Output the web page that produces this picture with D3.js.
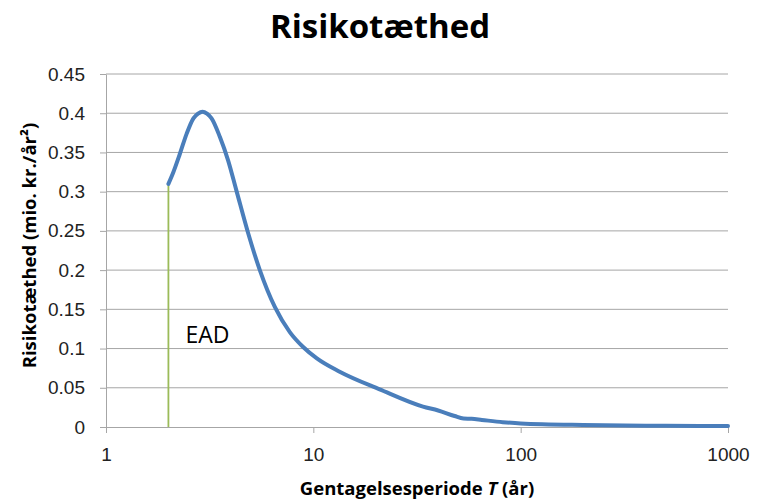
<!DOCTYPE html>
<html>
<head>
<meta charset="utf-8">
<script src="https://cdn.jsdelivr.net/npm/d3@7"></script>
<style>
  body { margin: 0; background: #fff; }
  svg { font-family: 'Open Sans', sans-serif; }
  .grid line { stroke: #a6a6a6; stroke-width: 1; }
  .axis text { font-size: 19px; fill: #222; }
  .axis line, .axis path { stroke: #a6a6a6; }
</style>
</head>
<body>
<div id="chart"></div>
<script>
// return period T (years) and risk density (mio. kr./år²)
const periods = [2, 2.11, 2.27, 2.45, 2.64, 2.78, 2.92, 3.07, 3.23, 3.54, 3.88, 4.26, 4.85, 5.52, 6.52, 7.7, 8.93, 10.4, 13.4, 20.9, 33.8, 40, 48, 53, 58, 65, 82, 100, 200, 500, 1000];
const density = [0.310, 0.3245, 0.348, 0.374, 0.3935, 0.3995, 0.402, 0.3995, 0.3935, 0.370, 0.340, 0.301, 0.247, 0.200, 0.153, 0.121, 0.102, 0.0875, 0.0705, 0.048, 0.026, 0.021, 0.014, 0.0108, 0.0104, 0.009, 0.0062, 0.0045, 0.0025, 0.0016, 0.0012];

const eadPeriod = 2;
const eadValue = 0.31;
const eadLabel = 'EAD';

const xTicks = [1, 10, 100, 1000];
const yTicks = [0, 0.05, 0.1, 0.15, 0.2, 0.25, 0.3, 0.35, 0.4, 0.45];

const width = 759;
const height = 500;
const margin = { top: 74, right: 31, bottom: 73, left: 106 };

const svg = d3.select('#chart')
  .append('svg')
  .attr('width', width)
  .attr('height', height);

const innerW = width - margin.left - margin.right;
const innerH = height - margin.top - margin.bottom;

const g = svg.append('g')
  .attr('transform', `translate(${margin.left}, ${margin.top})`);

const x = d3.scaleLog()
  .domain([1, 1000])
  .range([0, innerW]);

const y = d3.scaleLinear()
  .domain([0, 0.45])
  .range([innerH, 0]);

// horizontal gridlines
g.append('g')
  .attr('class', 'grid')
  .selectAll('line')
  .data(yTicks.filter(d => d > 0))
  .enter().append('line')
    .attr('x1', 0)
    .attr('x2', innerW)
    .attr('y1', d => y(d))
    .attr('y2', d => y(d));

const yAxis = d3.axisLeft(y)
  .tickValues(yTicks)
  .tickFormat(d => d3.format('')(+d.toFixed(2)))
  .tickSizeInner(6)
  .tickSizeOuter(0)
  .tickPadding(15);

g.append('g')
  .attr('class', 'axis')
  .call(yAxis);

const xAxis = d3.axisBottom(x)
  .tickValues(xTicks)
  .tickFormat(d3.format('d'))
  .tickSizeInner(6)
  .tickSizeOuter(0)
  .tickPadding(15);

g.append('g')
  .attr('class', 'axis')
  .attr('transform', `translate(0, ${innerH})`)
  .call(xAxis);

// EAD marker
g.append('line')
  .attr('x1', x(eadPeriod))
  .attr('x2', x(eadPeriod))
  .attr('y1', y(0))
  .attr('y2', y(eadValue))
  .attr('stroke', '#9bbb59')
  .attr('stroke-width', 1.8);

g.append('text')
  .attr('x', x(eadPeriod) + 17)
  .attr('y', y(0.1) - 6)
  .attr('font-size', 23)
  .attr('fill', '#000')
  .text(eadLabel);

const line = d3.line()
  .x((d, i) => x(periods[i]))
  .y(d => y(d))
  .curve(d3.curveMonotoneX);

g.append('path')
  .datum(density)
  .attr('fill', 'none')
  .attr('stroke', '#4a7ebb')
  .attr('stroke-width', 4)
  .attr('stroke-linejoin', 'round')
  .attr('stroke-linecap', 'round')
  .attr('d', line);

// title
svg.append('text')
  .attr('x', 380)
  .attr('y', 38)
  .attr('text-anchor', 'middle')
  .attr('font-size', 33)
  .attr('font-weight', 'bold')
  .text('Risikotæthed');

// y label
svg.append('text')
  .attr('transform', `translate(36, ${margin.top + innerH / 2 - 5}) rotate(-90)`)
  .attr('text-anchor', 'middle')
  .attr('font-size', 18.5)
  .attr('font-weight', 'bold')
  .text('Risikotæthed (mio. kr./år²)');

// x label
const xl = svg.append('text')
  .attr('x', margin.left + innerW / 2)
  .attr('y', 495)
  .attr('text-anchor', 'middle')
  .attr('font-size', 18.5)
  .attr('font-weight', 'bold');
xl.append('tspan').text('Gentagelsesperiode ');
xl.append('tspan').attr('font-style', 'italic').text('T');
xl.append('tspan').text(' (år)');
</script>
</body>
</html>
